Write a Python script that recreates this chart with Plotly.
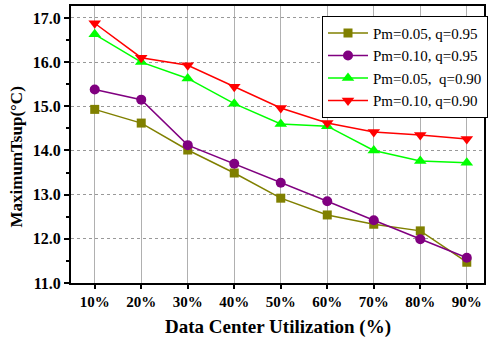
import plotly.graph_objects as go

categories = ["10%", "20%", "30%", "40%", "50%", "60%", "70%", "80%", "90%"]
s1_name = "Pm=0.05, q=0.95"
s1 = [14.93, 14.62, 14.01, 13.49, 12.92, 12.54, 12.33, 12.18, 11.47]
s2_name = "Pm=0.10, q=0.95"
s2 = [15.38, 15.15, 14.12, 13.70, 13.27, 12.85, 12.42, 11.99, 11.57]
s3_name = "Pm=0.05,  q=0.90"
s3 = [16.63, 16.00, 15.63, 15.06, 14.60, 14.55, 14.00, 13.76, 13.72]
s4_name = "Pm=0.10, q=0.90"
s4 = [16.88, 16.10, 15.93, 15.44, 14.96, 14.62, 14.42, 14.35, 14.26]
y_ticks = [11, 12, 13, 14, 15, 16, 17]
x_title = "Data Center Utilization (%)"
y_title = "MaximumTsup(°C)"

xs = list(range(1, len(categories) + 1))
FONT = "Liberation Serif"

fig = go.Figure()
styles = [
    (s1_name, s1, "#808000", "square", 9),
    (s2_name, s2, "#800080", "circle", 10),
    (s3_name, s3, "#00ff00", "triangle-up", 11),
    (s4_name, s4, "#ff0000", "triangle-down", 11),
]
for name, vals, col, sym, sz in styles:
    fig.add_trace(go.Scatter(
        x=xs, y=vals, name=name, mode="lines+markers",
        line=dict(color=col, width=1.5),
        marker=dict(symbol=sym, size=sz, color=col),
    ))

fig.update_layout(
    width=488, height=339,
    margin=dict(l=71, r=0, t=6, b=56),
    paper_bgcolor="white", plot_bgcolor="white",
    font=dict(family=FONT, color="black", size=14),
    showlegend=True,
    legend=dict(
        x=0.608, y=0.965, xanchor="left", yanchor="top",
        bgcolor="white", bordercolor="black", borderwidth=1,
        font=dict(family=FONT, size=15, color="black"),
        tracegroupgap=0, itemwidth=40,
    ),
    annotations=[
        dict(text=x_title, xref="paper", yref="paper", x=0.5, y=-0.159,
             xanchor="center", yanchor="middle", showarrow=False,
             font=dict(family=FONT, size=19, weight="bold")),
        dict(text=y_title, xref="paper", yref="paper", x=-0.132, y=0.455,
             xanchor="center", yanchor="middle", showarrow=False, textangle=-90,
             font=dict(family=FONT, size=17, weight="bold")),
    ],
)
fig.update_xaxes(
    range=[0.49, 9.37], tickvals=xs, ticktext=categories,
    showgrid=True, gridcolor="#b0b0b0", gridwidth=1,
    showline=True, linecolor="black", linewidth=2, mirror=True,
    ticks="outside", ticklen=4, tickwidth=1.5, tickcolor="black",
    tickfont=dict(family=FONT, size=15, weight="bold"),
    zeroline=False,
)
fig.update_yaxes(
    range=[11, 17.27], tickvals=y_ticks, ticktext=[f"{v:.1f}" for v in y_ticks],
    showgrid=True, gridcolor="#999999", gridwidth=1, griddash="dot",
    showline=True, linecolor="black", linewidth=2, mirror=True,
    ticks="outside", ticklen=5, tickwidth=1.5, tickcolor="black",
    minor=dict(tickvals=[11.5, 12.5, 13.5, 14.5, 15.5, 16.5], ticks="outside",
               ticklen=3, tickwidth=1.5, tickcolor="black", showgrid=False),
    tickfont=dict(family=FONT, size=16, weight="bold"),
    zeroline=False,
)

fig.write_html("out.html", config={"displayModeBar": False},
               post_script="document.body.style.margin='0';")
